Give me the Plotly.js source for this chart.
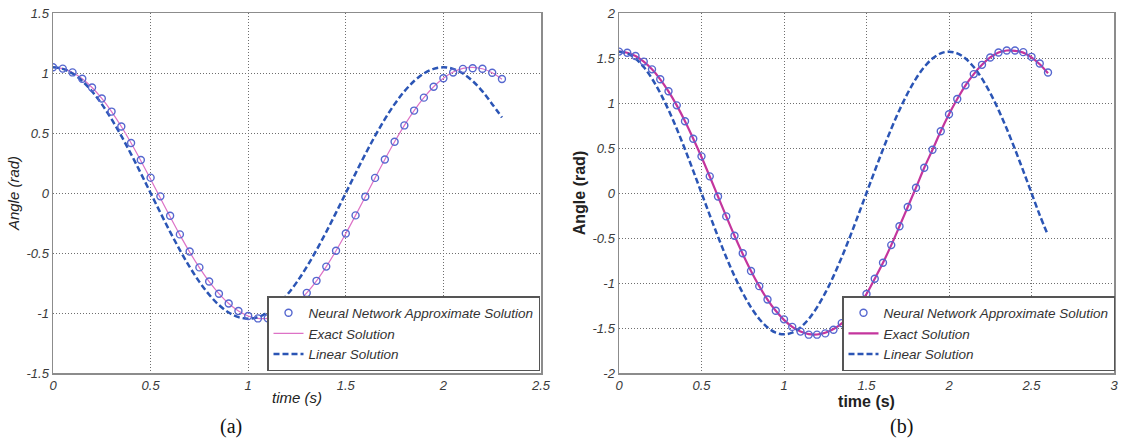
<!DOCTYPE html>
<html>
<head>
<meta charset="utf-8">
<script src="https://cdn.plot.ly/plotly-3.0.1.min.js"></script>
<style>html,body{margin:0;padding:0;background:#fff;}#chart{width:1124px;height:439px;}</style>
</head>
<body>
<div id="chart"></div>
<script>
// ---------- Data: panel (a) ----------
const timeA = [0,0.05,0.1,0.15,0.2,0.25,0.3,0.35,0.4,0.45,0.5,0.55,0.6,0.65,0.7,0.75,0.8,0.85,0.9,0.95,1,1.05,1.1,1.15,1.2,1.25,1.3,1.35,1.4,1.45,1.5,1.55,1.6,1.65,1.7,1.75,1.8,1.85,1.9,1.95,2,2.05,2.1,2.15,2.2,2.25,2.3];
const exactA = [1.0473,1.0367,1.0048,0.9522,0.8795,0.7878,0.6785,0.5538,0.4162,0.2687,0.1147,-0.0421,-0.1979,-0.3488,-0.4914,-0.6224,-0.7393,-0.8390,-0.9210,-0.9830,-1.0245,-1.0451,-1.0443,-1.0222,-0.9792,-0.9157,-0.8326,-0.7319,-0.6134,-0.4814,-0.3381,-0.1867,-0.0307,0.1260,0.2797,0.4266,0.5632,0.6868,0.7947,0.8854,0.9567,1.0079,1.0382,1.0473,1.0351,1.0017,0.9476];
const neuralA = [1.0473,1.0367,1.0048,0.9522,0.8795,0.7878,0.6785,0.5538,0.4162,0.2750,0.1280,-0.0280,-0.1900,-0.3450,-0.4880,-0.6200,-0.7380,-0.8390,-0.9210,-0.9830,-1.0245,-1.0451,-1.0443,-1.0222,-0.9792,-0.9157,-0.8326,-0.7319,-0.6134,-0.4814,-0.3381,-0.1867,-0.0307,0.1260,0.2797,0.4266,0.5632,0.6868,0.7947,0.8854,0.9567,1.0040,1.0340,1.0400,1.0351,1.0017,0.9500];
const linearA = [1.0472,1.0343,0.9959,0.9331,0.8472,0.7405,0.6155,0.4754,0.3236,0.1638,0,-0.1638,-0.3236,-0.4754,-0.6155,-0.7405,-0.8472,-0.9331,-0.9959,-1.0343,-1.0472,-1.0343,-0.9959,-0.9331,-0.8472,-0.7405,-0.6155,-0.4754,-0.3236,-0.1638,0,0.1638,0.3236,0.4754,0.6155,0.7405,0.8472,0.9331,0.9959,1.0343,1.0472,1.0343,0.9959,0.9331,0.8472,0.7405,0.6300];

// ---------- Data: panel (b) ----------
const timeB = [0,0.05,0.1,0.15,0.2,0.25,0.3,0.35,0.4,0.45,0.5,0.55,0.6,0.65,0.7,0.75,0.8,0.85,0.9,0.95,1,1.05,1.1,1.15,1.2,1.25,1.3,1.35,1.4,1.45,1.5,1.55,1.6,1.65,1.7,1.75,1.8,1.85,1.9,1.95,2,2.05,2.1,2.15,2.2,2.25,2.3,2.35,2.4,2.45,2.5,2.55,2.6];
const exactB = [1.5710,1.5586,1.5216,1.4599,1.3738,1.2634,1.1298,0.9738,0.7972,0.6033,0.4000,0.1830,-0.0390,-0.2600,-0.4750,-0.6780,-0.8660,-1.0350,-1.1835,-1.3090,-1.4100,-1.4875,-1.5400,-1.5680,-1.5720,-1.5530,-1.5120,-1.4480,-1.3600,-1.2520,-1.1220,-0.9520,-0.7750,-0.5790,-0.3690,-0.1550,0.0590,0.2800,0.4800,0.6860,0.8750,1.0440,1.1960,1.3210,1.4240,1.5060,1.5610,1.5830,1.5800,1.5600,1.5080,1.4300,1.3300];
const neuralB = [1.5710,1.5586,1.5216,1.4599,1.3738,1.2634,1.1298,0.9738,0.7972,0.6033,0.4070,0.1850,-0.0390,-0.2600,-0.4750,-0.6700,-0.8660,-1.0350,-1.1835,-1.3090,-1.4040,-1.4875,-1.5400,-1.5740,-1.5740,-1.5600,-1.5200,-1.4460,-1.3540,-1.2550,-1.1220,-0.9520,-0.7750,-0.5790,-0.3690,-0.1550,0.0590,0.2800,0.4800,0.6860,0.8750,1.0440,1.1960,1.3210,1.4240,1.5060,1.5610,1.5830,1.5830,1.5650,1.5130,1.4390,1.3390];
const linearB = [1.5708,1.5515,1.4939,1.3996,1.2708,1.1107,0.9233,0.7131,0.4854,0.2457,0,-0.2457,-0.4854,-0.7131,-0.9233,-1.1107,-1.2708,-1.3996,-1.4939,-1.5515,-1.5708,-1.5515,-1.4939,-1.3996,-1.2708,-1.1107,-0.9233,-0.7131,-0.4854,-0.2457,0,0.2457,0.4854,0.7131,0.9233,1.1107,1.2708,1.3996,1.4939,1.5515,1.5708,1.5515,1.4939,1.3996,1.2708,1.1107,0.9233,0.7131,0.4854,0.2457,0,-0.2457,-0.4700];

// ---------- Tick labels ----------
const xTicksA = [0,0.5,1,1.5,2,2.5];
const xTickTextA = ["0","0.5","1","1.5","2","2.5"];
const yTicksA = [-1.5,-1,-0.5,0,0.5,1,1.5];
const yTickTextA = ["-1.5","-1","-0.5","0","0.5","1","1.5"];
const xTicksB = [0,0.5,1,1.5,2,2.5,3];
const xTickTextB = ["0","0.5","1","1.5","2","2.5","3"];
const yTicksB = [-2,-1.5,-1,-0.5,0,0.5,1,1.5,2];
const yTickTextB = ["-2","-1.5","-1","-0.5","0","0.5","1","1.5","2"];

const seriesNames = ["Neural Network Approximate Solution","Exact Solution","Linear Solution"];

const FONT = "'Liberation Sans', Arial, sans-serif";
const markerColor = "#5567cf";
const dashColor = "#2b55b5";

const traces = [
  {x: timeA, y: exactA, type:'scatter', mode:'lines', name: seriesNames[1], legendrank: 2,
   line:{color:'#dd72c6', width:1.2, shape:'spline'}, xaxis:'x', yaxis:'y', legend:'legend'},
  {x: timeA, y: linearA, type:'scatter', mode:'lines', name: seriesNames[2], legendrank: 3,
   line:{color:dashColor, width:2.5, dash:'6px,3px', shape:'spline'}, xaxis:'x', yaxis:'y', legend:'legend'},
  {x: timeA, y: neuralA, type:'scatter', mode:'markers', name: seriesNames[0], legendrank: 1,
   marker:{symbol:'circle-open', size:7, color:markerColor, line:{width:1.4, color:markerColor}}, xaxis:'x', yaxis:'y', legend:'legend'},

  {x: timeB, y: exactB, type:'scatter', mode:'lines', name: seriesNames[1], legendrank: 2,
   line:{color:'#c4359d', width:2.2, shape:'spline'}, xaxis:'x2', yaxis:'y2', legend:'legend2'},
  {x: timeB, y: linearB, type:'scatter', mode:'lines', name: seriesNames[2], legendrank: 3,
   line:{color:dashColor, width:2.5, dash:'6px,3px', shape:'spline'}, xaxis:'x2', yaxis:'y2', legend:'legend2'},
  {x: timeB, y: neuralB, type:'scatter', mode:'markers', name: seriesNames[0], legendrank: 1,
   marker:{symbol:'circle-open', size:7, color:markerColor, line:{width:1.4, color:markerColor}}, xaxis:'x2', yaxis:'y2', legend:'legend2'}
];

const tickFont = {family: FONT, size: 13, color:'#3a3a3a', style:'italic'};
const gridCommon = {showgrid:true, gridcolor:'#6e6e6e', gridwidth:1, griddash:'1px,2px', zeroline:false,
  showline:true, mirror:true, linecolor:'#8c8c8c', linewidth:1.5, ticks:'', tickfont: tickFont, automargin:false, tickmode:'array'};

const legendCommon = {xanchor:'left', yanchor:'bottom', bgcolor:'#ffffff', bordercolor:'#555555', borderwidth:1.5,
  font:{family: FONT, size:13.5, color:'#333333', style:'italic'}, itemwidth:30, tracegroupgap:0, traceorder:'normal'};

const layout = {
  width:1124, height:439,
  margin:{l:0, r:0, t:13, b:66},
  paper_bgcolor:'#ffffff', plot_bgcolor:'#ffffff',
  showlegend:true,
  xaxis: Object.assign({}, gridCommon, {domain:[53/1124, 541/1124], range:[0,2.5], anchor:'y',
    tickvals:xTicksA, ticktext:xTickTextA,
    title:{text:'time (s)', standoff:0, font:{family:FONT, size:15, color:'#222', style:'italic'}}}),
  yaxis: Object.assign({}, gridCommon, {domain:[0,1], range:[-1.5,1.5], anchor:'x',
    tickvals:yTicksA, ticktext:yTickTextA,
    title:{text:'Angle (rad)', standoff:3, font:{family:FONT, size:15, color:'#222', style:'italic'}}}),
  xaxis2: Object.assign({}, gridCommon, {domain:[619/1124, 1114/1124], range:[0,3], anchor:'y2',
    tickvals:xTicksB, ticktext:xTickTextB,
    title:{text:'time (s)', standoff:0, font:{family:FONT, size:16, color:'#222', weight:'bold'}}}),
  yaxis2: Object.assign({}, gridCommon, {domain:[0,1], range:[-2,2], anchor:'x2',
    tickvals:yTicksB, ticktext:yTickTextB,
    title:{text:'Angle (rad)', standoff:3, font:{family:FONT, size:16, color:'#222', weight:'bold'}}}),
  legend: Object.assign({}, legendCommon, {x:267/1124, y:(373-371)/360}),
  legend2: Object.assign({}, legendCommon, {x:842/1124, y:(373-371)/360}),
  annotations:[
    {text:'(a)', xref:'paper', yref:'paper', x:231/1124, y:(373-427)/360, xanchor:'center', yanchor:'middle', showarrow:false,
     font:{family:"'Liberation Serif', 'Times New Roman', serif", size:20, color:'#111'}},
    {text:'(b)', xref:'paper', yref:'paper', x:901/1124, y:(373-427)/360, xanchor:'center', yanchor:'middle', showarrow:false,
     font:{family:"'Liberation Serif', 'Times New Roman', serif", size:20, color:'#111'}}
  ]
};

Plotly.newPlot('chart', traces, layout, {displayModeBar:false, staticPlot:true});
</script>
</body>
</html>
